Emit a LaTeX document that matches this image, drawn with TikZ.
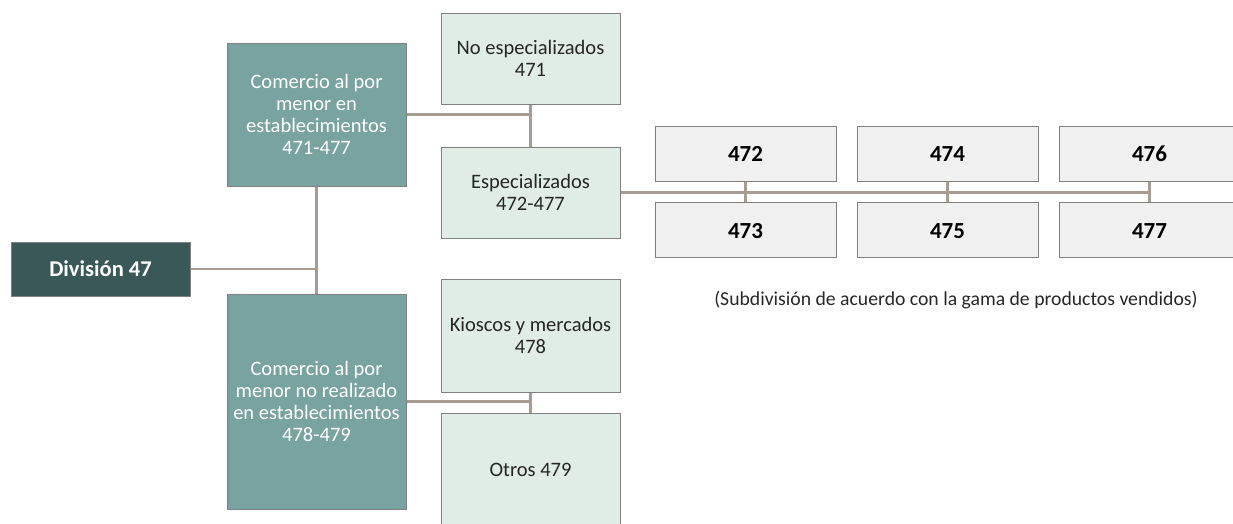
\documentclass[tikz,border=0pt]{standalone}
\usepackage{fontspec}
\setmainfont{Carlito}

\definecolor{divfill}{HTML}{3A5858}
\definecolor{comfill}{HTML}{78A3A1}
\definecolor{subfill}{HTML}{DFEDE6}
\definecolor{numfill}{HTML}{F0F0F0}
\definecolor{linkcol}{HTML}{A89B8F}
\definecolor{edgecol}{HTML}{808080}

\begin{document}
\begin{tikzpicture}[x=1pt, y=-1pt,
  box/.style={draw=edgecol, line width=1pt, align=center, inner sep=0pt, text=black!85, font=\fontsize{20.5}{22}\selectfont},
  divbox/.style={box, fill=divfill, text=white, font=\fontsize{22.5}{24}\selectfont\bfseries, minimum width=179, minimum height=54},
  combox/.style={box, fill=comfill, text=white, minimum width=179},
  subbox/.style={box, fill=subfill, minimum width=179},
  numbox/.style={box, fill=numfill, text=black, font=\fontsize{23}{24}\selectfont\bfseries, text height=16, text depth=0, minimum width=181, minimum height=55},
  link/.style={draw=linkcol, line width=2.5pt}]

\useasboundingbox (0,0) rectangle (1233,523);
\clip (0,0) rectangle (1233,523);

\node[divbox] (div) at (100.5,269) {División 47};

\node[combox, minimum height=143] (com1) at (316.5,114.5) {Comercio al por\\menor en\\establecimientos\\471-477};
\node[combox, minimum height=215] (com2) at (316.5,401.5) {Comercio al por\\menor no realizado\\en establecimientos\\478-479};

\node[subbox, minimum height=91] (noesp) at (530.5,58.5) {No especializados\\471};
\node[subbox, minimum height=91] (esp) at (530.5,192.5) {Especializados\\472-477};
\node[subbox, minimum height=113] (kio) at (530.5,335.5) {Kioscos y mercados\\478};
\node[subbox, minimum height=114] (otros) at (530.5,470) {Otros 479};

% subdivision 472-477
\foreach \ua/\ub [count=\i from 0] in {472/473, 474/475, 476/477} {
  \node[numbox] (n\ua) at (745.5+202*\i,153.5) {\ua};
  \node[numbox] (n\ub) at (745.5+202*\i,230) {\ub};
  \draw[link] (n\ua.south) -- (n\ub.north);
}

\node[font=\fontsize{19.7}{22}\selectfont, text=black!85] (note) at (956,300) {(Subdivisión de acuerdo con la gama de productos vendidos)};

% connectors
\draw[link] (div.east) -- (div.east -| com1.south);
\draw[link] (com1.south) -- (com2.north);
\draw[link] (com1.east) -- (com1.east -| noesp.south);
\draw[link] (noesp.south) -- (esp.north);
\draw[link] (esp.east) -- (esp.east -| n476.south);
\draw[link] (com2.east) -- (com2.east -| kio.south);
\draw[link] (kio.south) -- (otros.north);

\end{tikzpicture}
\end{document}
